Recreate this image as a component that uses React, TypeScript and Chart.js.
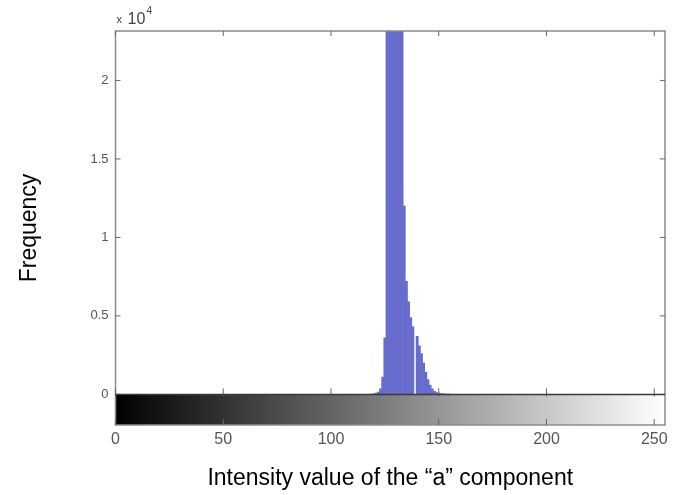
import { useEffect, useRef } from "react";
import { Chart, registerables } from "chart.js";

Chart.register(...registerables);

// Histogram of the "a" component (only non-empty bins listed)
const intensities = [
  118, 119, 120, 121, 122, 123, 124, 125, 126, 127,
  128, 129, 130, 131, 132, 133, 134, 135, 136, 137,
  138, 139, 140, 141, 142, 143, 144, 145, 146, 147,
  148, 149, 150, 151, 152, 153, 154, 155, 156, 157,
];
const frequencies = [
  10, 20, 40, 80, 150, 350, 1100, 3600, 38000, 52000,
  60000, 56000, 46000, 36000, 29000, 25000, 12000, 7200, 5900, 4900,
  4300, 0, 3700, 3100, 2600, 2000, 1400, 950, 600, 350,
  200, 120, 80, 50, 35, 25, 20, 15, 10, 5,
];
const xTicks = [0, 50, 100, 150, 200, 250];
const yTicks = [0, 5000, 10000, 15000, 20000];
const xRange = [0, 255];
const yRange = [-1950, 23150];
const yScaleFactor = 10000;
const xTitle = "Intensity value of the \u201ca\u201d component";
const yTitle = "Frequency";
const exponentBase = "10";
const exponentPower = "4";

const FONT = "'Liberation Sans', Arial, sans-serif";

const colorbarPlugin = {
  id: "colorbar",
  beforeDatasetsDraw(chart: any) {
    const { ctx, chartArea, scales } = chart;
    const x = scales.x;
    const y = scales.y;
    const y0 = y.getPixelForValue(0);
    const g = ctx.createLinearGradient(
      x.getPixelForValue(xRange[0]), 0, x.getPixelForValue(xRange[1]), 0
    );
    g.addColorStop(0, "#000000");
    g.addColorStop(1, "#ffffff");
    ctx.save();
    ctx.fillStyle = g;
    ctx.fillRect(chartArea.left, y0, chartArea.right - chartArea.left, chartArea.bottom - y0);
    ctx.restore();
  },
};

const matlabAxesPlugin = {
  id: "matlabAxes",
  afterDatasetsDraw(chart: any) {
    const { ctx, chartArea, scales } = chart;
    const { left, right, top, bottom } = chartArea;
    const x = scales.x;
    const y = scales.y;
    const y0 = y.getPixelForValue(0);
    ctx.save();
    ctx.strokeStyle = "#8c8c8c";
    ctx.lineWidth = 1.5;
    ctx.strokeRect(left, top, right - left, bottom - top);
    ctx.lineWidth = 1;
    ctx.strokeStyle = "#666";
    ctx.beginPath();
    for (const v of yTicks) {
      const py = y.getPixelForValue(v);
      ctx.moveTo(left, py);
      ctx.lineTo(left + 5, py);
      ctx.moveTo(right, py);
      ctx.lineTo(right - 5, py);
    }
    for (const v of xTicks) {
      const px = x.getPixelForValue(v);
      ctx.moveTo(px, top);
      ctx.lineTo(px, top + 5);
      ctx.moveTo(px, y0 - 6);
      ctx.lineTo(px, y0 + 2);
      ctx.moveTo(px, bottom);
      ctx.lineTo(px, bottom - 6);
    }
    ctx.stroke();
    ctx.strokeStyle = "#3a3a3a";
    ctx.lineWidth = 1.5;
    ctx.beginPath();
    ctx.moveTo(left, y0);
    ctx.lineTo(right, y0);
    ctx.stroke();
    ctx.restore();
  },
  afterDraw(chart: any) {
    const { ctx, chartArea } = chart;
    ctx.save();
    ctx.fillStyle = "#444";
    ctx.textBaseline = "alphabetic";
    ctx.font = `11px ${FONT}`;
    ctx.fillText("x", chartArea.left + 1, chartArea.top - 8);
    ctx.font = `16px ${FONT}`;
    ctx.fillText(exponentBase, chartArea.left + 12, chartArea.top - 7);
    ctx.font = `10px ${FONT}`;
    ctx.fillText(exponentPower, chartArea.left + 31, chartArea.top - 17);
    ctx.restore();
  },
};

export default function App() {
  const canvasRef = useRef<HTMLCanvasElement | null>(null);

  useEffect(() => {
    const canvas = canvasRef.current;
    if (!canvas) return;
    const chart = new Chart(canvas, {
      type: "bar",
      data: {
        datasets: [
          {
            data: intensities.map((v, i) => ({ x: v, y: frequencies[i] })),
            backgroundColor: "rgb(104,108,204)",
            borderWidth: 0,
            barPercentage: 1,
            categoryPercentage: 1,
          },
        ],
      },
      options: {
        animation: false,
        responsive: false,
        maintainAspectRatio: false,
        layout: { padding: { top: 31, right: 17, left: 0, bottom: 0 } },
        plugins: {
          legend: { display: false },
          tooltip: { enabled: false },
        },
        scales: {
          x: {
            type: "linear",
            offset: false,
            min: xRange[0],
            max: xRange[1],
            grid: { display: false, offset: false, drawTicks: false },
            border: { display: false },
            afterBuildTicks: (s: any) => {
              s.ticks = xTicks.map((v) => ({ value: v }));
            },
            afterFit: (s: any) => {
              s.height = 70;
            },
            ticks: {
              autoSkip: false,
              maxRotation: 0,
              padding: 5,
              color: "#555",
              font: { family: FONT, size: 16 },
              callback: (v: any) => String(v),
            },
            title: {
              display: true,
              text: xTitle,
              color: "#000",
              font: { family: FONT, size: 23 },
              padding: { top: 0, bottom: 3 },
            },
          },
          y: {
            type: "linear",
            min: yRange[0],
            max: yRange[1],
            grid: { display: false, drawTicks: false },
            border: { display: false },
            afterBuildTicks: (s: any) => {
              s.ticks = yTicks.map((v) => ({ value: v }));
            },
            afterFit: (s: any) => {
              s.width = 115.5;
            },
            ticks: {
              padding: 7,
              color: "#555",
              font: { family: FONT, size: 13 },
              callback: (v: any) => String(Number(v) / yScaleFactor),
            },
            title: {
              display: true,
              text: yTitle,
              color: "#000",
              font: { family: FONT, size: 23 },
              padding: { top: 16, bottom: 0 },
            },
          },
        },
      },
      plugins: [colorbarPlugin, matlabAxesPlugin],
    } as any);
    return () => chart.destroy();
  }, []);

  return (
    <canvas
      ref={canvasRef}
      width={682}
      height={495}
      style={{ position: "fixed", left: 0, top: 0, display: "block", background: "#fff" }}
    />
  );
}
